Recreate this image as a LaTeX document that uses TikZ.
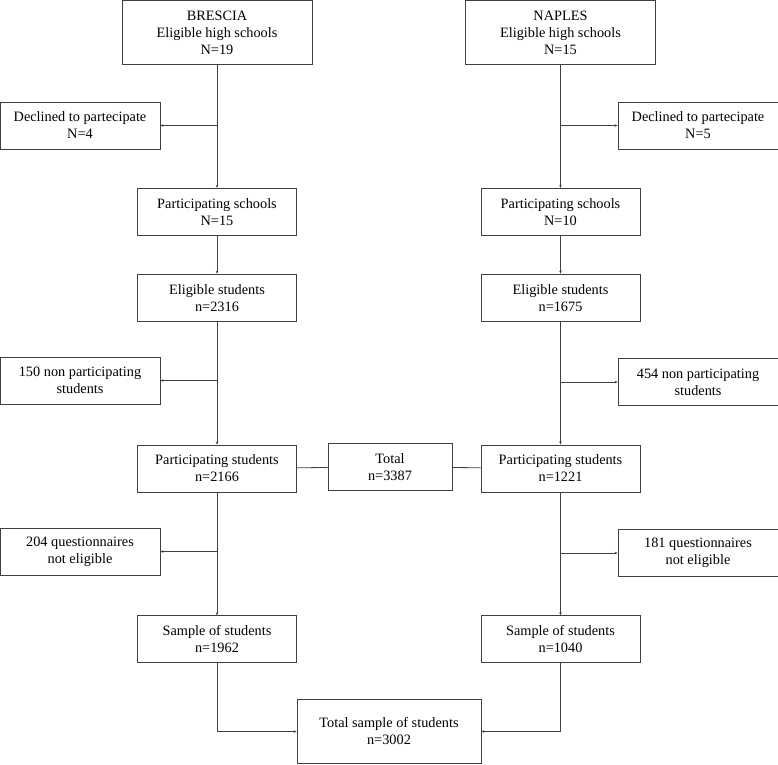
\documentclass[tikz,border=0pt]{standalone}
\usepackage{fontspec}
\setmainfont{Liberation Serif}
\usetikzlibrary{positioning,arrows.meta}

\tikzset{
  box/.style={draw=black!75, line width=0.8pt, align=center, inner sep=0pt,
    font=\fontsize{14.3}{17}\selectfont, minimum height=47pt},
  narrow/.style={box, minimum width=159pt},
  side/.style={box, minimum width=160pt},
  tall/.style={box, minimum height=64pt},
  arr/.style={draw=black!75, line width=0.8pt, -{Stealth[length=3pt,width=2.5pt]}},
  link/.style={draw=black!75, line width=0.8pt},
}

\begin{document}
\begin{tikzpicture}[x=1pt,y=-1pt]
        \useasboundingbox (0,0) rectangle (778,764);
        \node[tall, minimum width=190pt] (bre) at (217,32.5) {BRESCIA\\Eligible high schools\\N=19};
        \node[narrow, below=123pt of bre] (schb) {Participating schools\\N=15};
        \node[narrow, below=38pt of schb] (elib) {Eligible students\\n=2316};
        \node[narrow, below=123pt of elib] (parb) {Participating students\\n=2166};
        \node[narrow, below=123pt of parb] (samb) {Sample of students\\n=1962};
        \node[side] (decb) at (80,125.5) {Declined to partecipate\\N=4};
        \node[side] (nonb) at (80,380.5) {150 non participating\\students};
        \node[side] (queb) at (80,551.5) {204 questionnaires\\not eligible};

        \node[tall, minimum width=190pt] (nap) at (560.5,32.5) {NAPLES\\Eligible high schools\\N=15};
        \node[narrow, below=123pt of nap] (schn) {Participating schools\\N=10};
        \node[narrow, below=38pt of schn] (elin) {Eligible students\\n=1675};
        \node[narrow, below=123pt of elin] (parn) {Participating students\\n=1221};
        \node[narrow, below=123pt of parn] (samn) {Sample of students\\n=1040};
        \node[side] (decn) at (698,125.5) {Declined to partecipate\\N=5};
        \node[side] (nonn) at (698,382) {454 non participating\\students};
        \node[side] (quen) at (698,553) {181 questionnaires\\not eligible};

        \node[box, minimum width=124pt] (tot) at (390,467) {Total\\n=3387};
        \node[tall, minimum width=184pt] (tots) at (389,731.5) {Total sample of students\\n=3002};

        \draw[arr] (bre) -- (schb);
        \draw[arr] (bre |- decb) -- (decb);
        \draw[arr] (schb) -- (elib);
        \draw[arr] (elib) -- (parb);
        \draw[arr] (elib |- nonb) -- (nonb);
        \draw[arr] (parb) -- (samb);
        \draw[arr] (parb |- queb) -- (queb);
        \draw[arr] (samb) |- (tots);

        \draw[arr] (nap) -- (schn);
        \draw[arr] (nap |- decn) -- (decn);
        \draw[arr] (schn) -- (elin);
        \draw[arr] (elin) -- (parn);
        \draw[arr] (elin |- nonn) -- (nonn);
        \draw[arr] (parn) -- (samn);
        \draw[arr] (parn |- quen) -- (quen);
        \draw[arr] (samn) |- (tots);

        \draw[link] (parb) -- (tot) -- (parn);
\end{tikzpicture}
\end{document}
